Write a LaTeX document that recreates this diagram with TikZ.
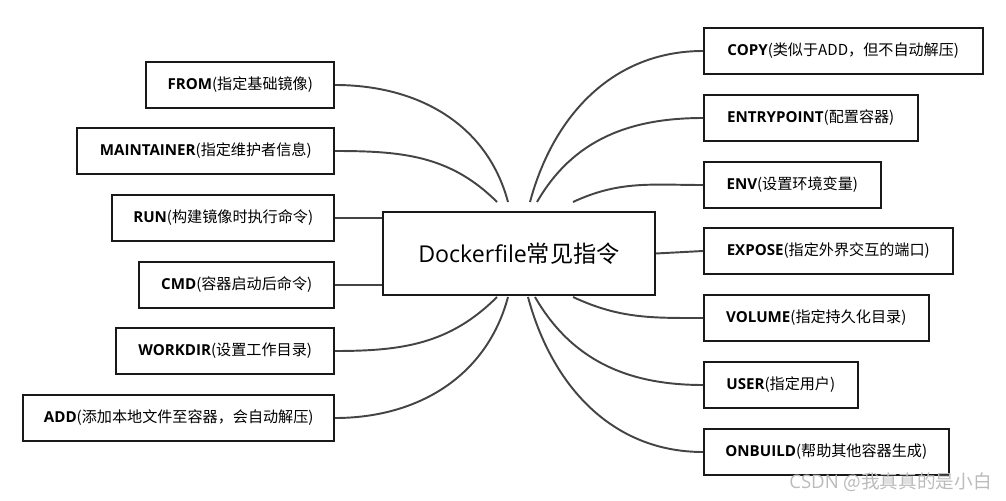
\documentclass[tikz,border=0pt]{standalone}
\usepackage{fontspec}
\setmainfont{Open Sans}
\newfontfamily\cjk{Noto Sans CJK SC}
\usetikzlibrary{positioning,calc}
\definecolor{linegray}{HTML}{444444}
\definecolor{markgray}{HTML}{BBBBBB}

\begin{document}
\begin{tikzpicture}[x=0.02cm,y=-0.02cm,
	cmdbox/.style={draw=black!90,line width=0.9pt,minimum height=0.92cm,inner xsep=0pt,align=center,font=\fontsize{8.6}{10}\selectfont},
	link/.style={draw=linegray,line width=1.1pt}]
	\useasboundingbox (0,0) rectangle (1006,500);
	% centre
	\node at (519,253.5)[draw=black!90,line width=0.9pt,minimum width=5.44cm,minimum height=1.66cm,font=\fontsize{13.2}{15}\selectfont] (hub) {Dockerfile{\cjk 常见指令}};
	% left column
	\node at (335,85)[cmdbox,anchor=east,minimum width=3.76cm] (from) {\textbf{FROM}{\cjk(指定基础镜像)}};
	\node at (335,151)[cmdbox,anchor=east,minimum width=5.14cm] (maintainer) {\textbf{MAINTAINER}{\cjk(指定维护者信息)}};
	\node at (335,218)[cmdbox,anchor=east,minimum width=4.44cm] (run) {\textbf{RUN}{\cjk(构建镜像时执行命令)}};
	\node at (335,285)[cmdbox,anchor=east,minimum width=3.9cm] (cmd) {\textbf{CMD}{\cjk(容器启动后命令)}};
	\node at (335,351)[cmdbox,anchor=east,minimum width=4.36cm] (workdir) {\textbf{WORKDIR}{\cjk(设置工作目录)}};
	\node at (335,418)[cmdbox,anchor=east,minimum width=6.22cm] (add) {\textbf{ADD}{\cjk(添加本地文件至容器，会自动解压)}};
	% right column
	\node at (703,51)[cmdbox,anchor=west,minimum width=5.58cm] (copy) {\textbf{COPY}{\cjk(类似于ADD，但不自动解压)}};
	\node at (703,118)[cmdbox,anchor=west,minimum width=4.28cm] (entrypoint) {\textbf{ENTRYPOINT}{\cjk(配置容器)}};
	\node at (703,185)[cmdbox,anchor=west,minimum width=3.54cm] (env) {\textbf{ENV}{\cjk(设置环境变量)}};
	\node at (703,251)[cmdbox,anchor=west,minimum width=4.98cm] (expose) {\textbf{EXPOSE}{\cjk(指定外界交互的端口)}};
	\node at (703,318)[cmdbox,anchor=west,minimum width=4.5cm] (volume) {\textbf{VOLUME}{\cjk(指定持久化目录)}};
	\node at (703,385)[cmdbox,anchor=west,minimum width=3.08cm] (user) {\textbf{USER}{\cjk(指定用户)}};
	\node at (703,452)[cmdbox,anchor=west,minimum width=4.9cm] (onbuild) {\textbf{ONBUILD}{\cjk(帮助其他容器生成)}};
	% ends of the curves round the centre
	\coordinate (maintainer-end) at (497,202);
	\coordinate (from-end) at (508,202);
	\coordinate (copy-end) at (530,202);
	\coordinate (entrypoint-end) at (537,202);
	\coordinate (env-end) at (573,202);
	\coordinate (workdir-end) at (497,297);
	\coordinate (add-end) at (508,297);
	\coordinate (onbuild-end) at (528,297);
	\coordinate (user-end) at (535,297);
	\coordinate (volume-end) at (573,297);
	\draw[link] (from.east) to[out=0,in=105] (from-end);
	\draw[link] (maintainer.east) to[out=0,in=135] (maintainer-end);
	\draw[link] (run.east)--(run.east -| hub.west);
	\draw[link] (cmd.east)--(cmd.east -| hub.west);
	\draw[link] (workdir.east) to[out=0,in=-135] (workdir-end);
	\draw[link] (add.east) to[out=0,in=-105] (add-end);
	\draw[link] (copy.west) to[out=180,in=75] (copy-end);
	\draw[link] (entrypoint.west) to[out=180,in=60] (entrypoint-end);
	\draw[link] (env.west) to[out=180,in=25] (env-end);
	\draw[link] (hub.east)--(expose.west);
	\draw[link] (volume.west) to[out=180,in=-25] (volume-end);
	\draw[link] (user.west) to[out=180,in=-60] (user-end);
	\draw[link] (onbuild.west) to[out=180,in=-75] (onbuild-end);
	\node at (992,482)[anchor=east,text=markgray,inner sep=0pt,font=\fontsize{10.6}{12}\selectfont] (mark) {CSDN {\cjk @我真真的是小白}};
\end{tikzpicture}
\end{document}
